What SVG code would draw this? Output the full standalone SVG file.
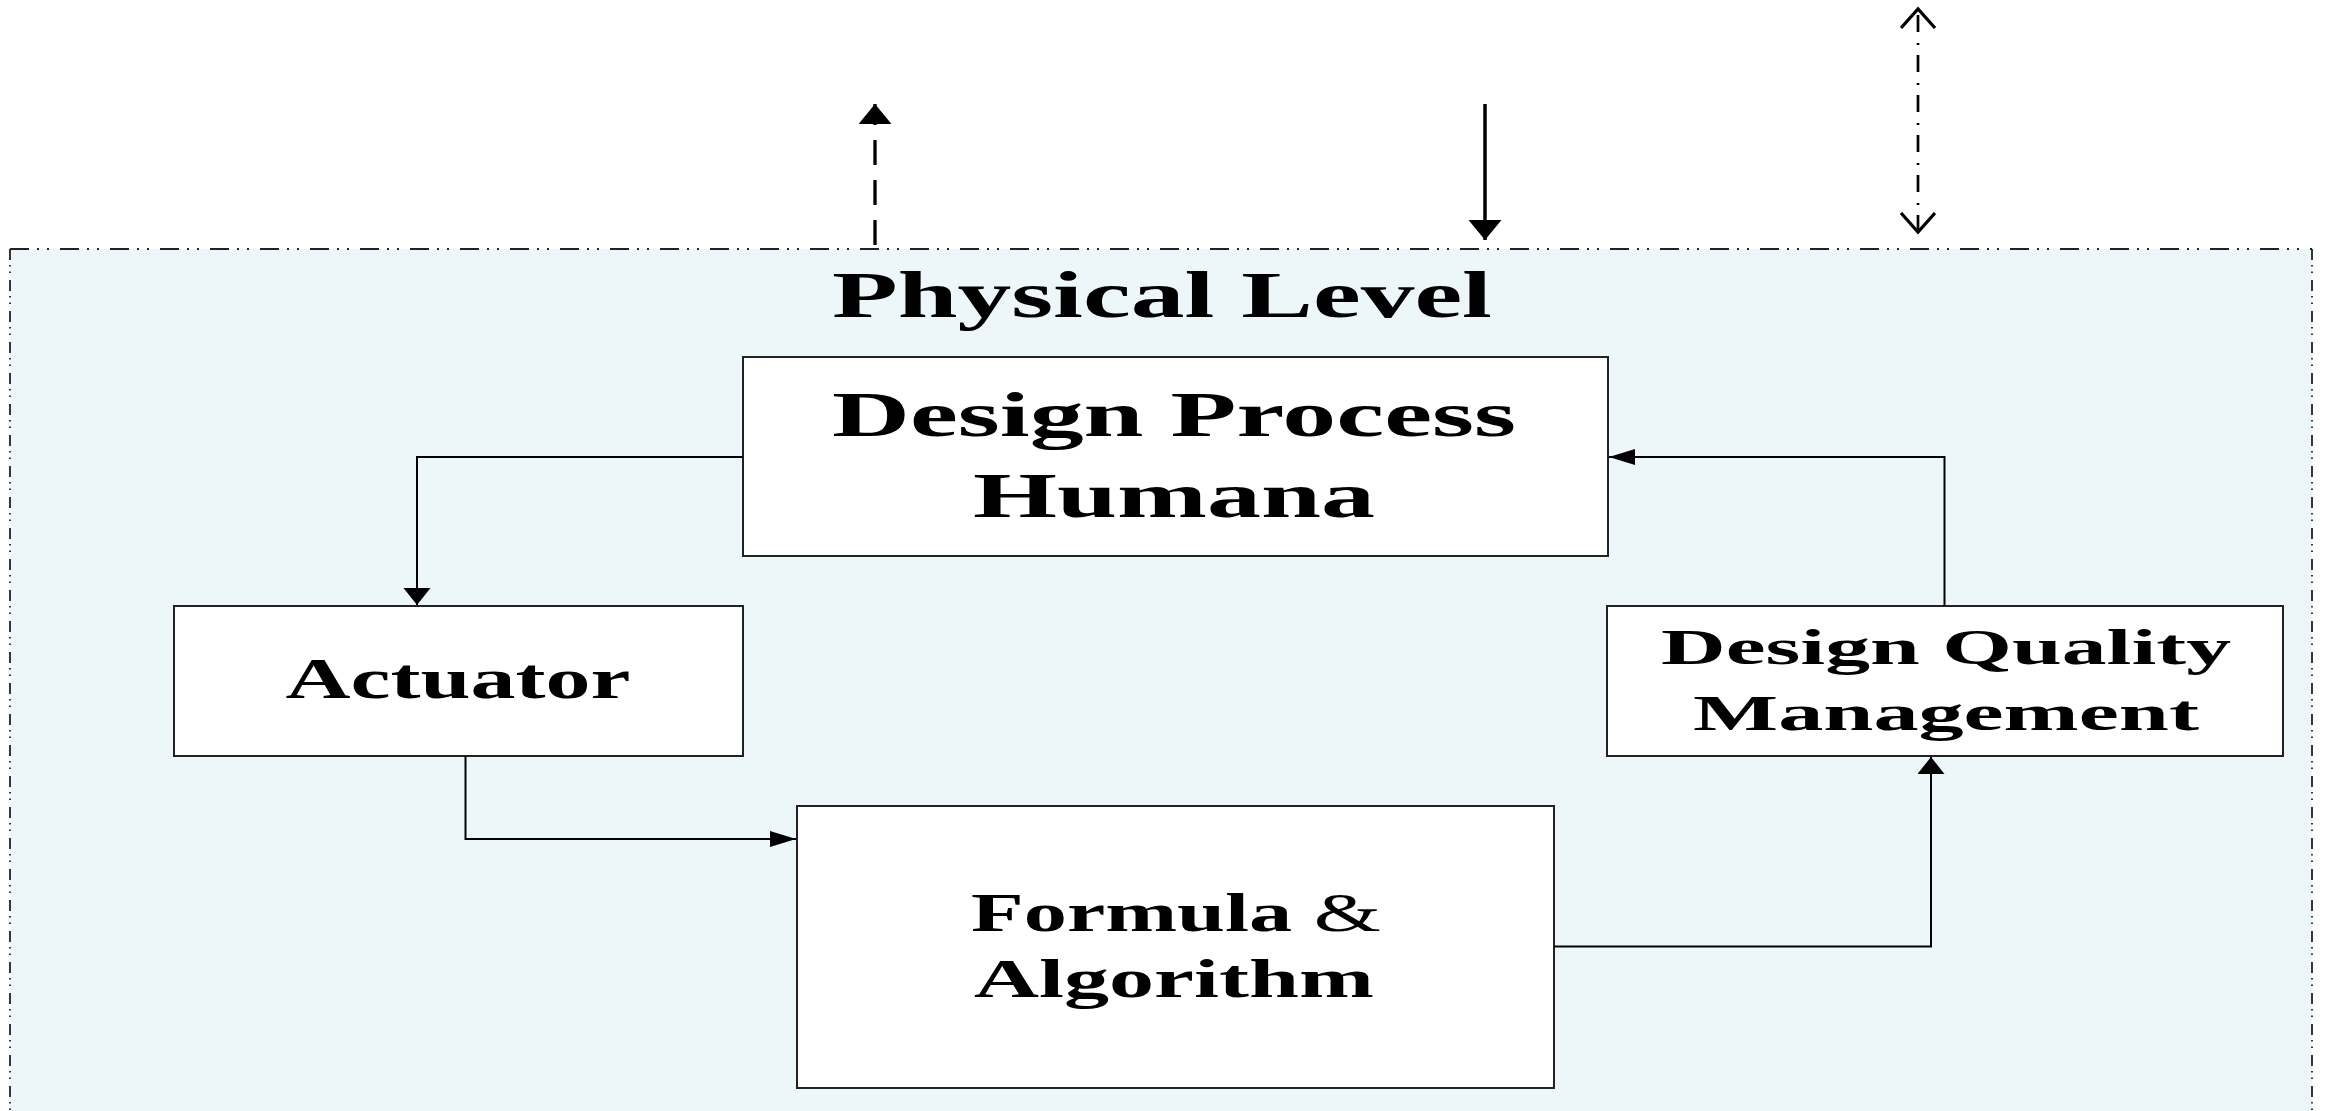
<svg xmlns="http://www.w3.org/2000/svg" width="2325" height="1111" viewBox="0 0 2325 1111">
  <defs>
    <style>
      .box { fill: #ffffff; stroke: #222222; stroke-width: 2; }
      .lbl { font-family: "Liberation Serif", "Times New Roman", serif; font-weight: bold; fill: #000000; text-anchor: middle; }
      .conn { fill: none; stroke: #000000; stroke-width: 2; }
      .bH { stroke: #222222; stroke-width: 1.8; stroke-dasharray: 19 8 2 8 2 11; fill: none; }
      .bV { stroke: #222222; stroke-width: 1.8; stroke-dasharray: 11 5 1.5 5 1.5 7; fill: none; }
    </style>
    <marker id="ahV" markerUnits="userSpaceOnUse" markerWidth="18" markerHeight="28" refX="17" refY="13.5" orient="auto">
      <path d="M0,0 L17,13.5 L0,27 z" fill="#000"/>
    </marker>
    <marker id="ahH" markerUnits="userSpaceOnUse" markerWidth="27" markerHeight="17" refX="26" refY="8" orient="auto">
      <path d="M0,0 L26,8 L0,16 z" fill="#000"/>
    </marker>
    <marker id="bigSolid" markerUnits="userSpaceOnUse" markerWidth="22" markerHeight="34" refX="20" refY="16.5" orient="auto">
      <path d="M0,0 L20,16.5 L0,33 z" fill="#000"/>
    </marker>
    <marker id="openV" markerUnits="userSpaceOnUse" markerWidth="24" markerHeight="40" refX="20" refY="18" orient="auto-start-reverse">
      <path d="M1,1 L20,18 L1,35" fill="none" stroke="#000" stroke-width="3.2"/>
    </marker>
  </defs>

  <rect x="0" y="0" width="2325" height="1111" fill="#ffffff"/>

  <g id="physical-level">
    <rect x="10" y="249" width="2302" height="870" fill="#EDF6F9"/>
    <line class="bH" x1="10" y1="249" x2="2312" y2="249"/>
    <line class="bV" x1="10" y1="249" x2="10" y2="1111"/>
    <line class="bV" x1="2312" y1="249" x2="2312" y2="1111"/>
    <text class="lbl" x="1162" y="317" font-size="66" textLength="660" lengthAdjust="spacingAndGlyphs">Physical Level</text>
  </g>

  <g id="design-process">
    <rect class="box" x="743" y="357" width="865" height="199"/>
    <text class="lbl" x="1174" y="436" font-size="63" textLength="684" lengthAdjust="spacingAndGlyphs">Design Process</text>
    <text class="lbl" x="1174" y="517" font-size="63" textLength="402" lengthAdjust="spacingAndGlyphs">Humana</text>
  </g>

  <g id="actuator">
    <rect class="box" x="174" y="606" width="569" height="150"/>
    <text class="lbl" x="458" y="698" font-size="57" textLength="345" lengthAdjust="spacingAndGlyphs">Actuator</text>
  </g>

  <g id="formula">
    <rect class="box" x="797" y="806" width="757" height="282"/>
    <text class="lbl" x="1176" y="931" font-size="55" textLength="410" lengthAdjust="spacingAndGlyphs">Formula <tspan font-weight="normal">&amp;</tspan></text>
    <text class="lbl" x="1174" y="997" font-size="55" textLength="400" lengthAdjust="spacingAndGlyphs">Algorithm</text>
  </g>

  <g id="dqm">
    <rect class="box" x="1607" y="606" width="676" height="150"/>
    <text class="lbl" x="1946" y="664" font-size="50" textLength="570" lengthAdjust="spacingAndGlyphs">Design Quality</text>
    <text class="lbl" x="1946" y="730" font-size="50" textLength="506" lengthAdjust="spacingAndGlyphs">Management</text>
  </g>

  <g id="connectors">
    <path class="conn" d="M743,457 H417 V605" marker-end="url(#ahV)"/>
    <path class="conn" d="M465.5,756 V839 H796" marker-end="url(#ahH)"/>
    <path class="conn" d="M1554,946.5 H1931 V757" marker-end="url(#ahV)"/>
    <path class="conn" d="M1944.5,606 V457 H1609" marker-end="url(#ahH)"/>
    <path d="M875,247 V104" fill="none" stroke="#000" stroke-width="3.3" stroke-dasharray="25 15" stroke-dashoffset="-2" marker-end="url(#bigSolid)"/>
    <path d="M1485,104 V240" fill="none" stroke="#000" stroke-width="3.5" marker-end="url(#bigSolid)"/>
    <path d="M1918,232 V9" fill="none" stroke="#000" stroke-width="2.7" stroke-dasharray="17 10 2 11" marker-start="url(#openV)" marker-end="url(#openV)"/>
  </g>
</svg>
